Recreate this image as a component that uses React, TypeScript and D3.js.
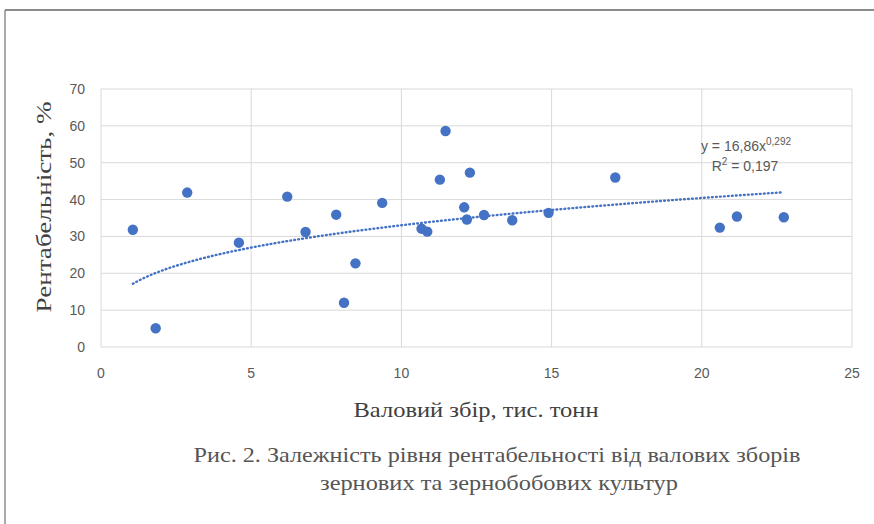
import React, { useRef, useEffect } from "react";
import { select, scaleLinear, line, range } from "d3";

// Валовий збір, тис. тонн
const harvest = [1.06, 2.87, 1.82, 4.59, 6.2, 6.81, 7.83, 8.47, 8.09, 9.36, 11.47, 11.28, 12.28, 10.67, 10.86, 12.09, 12.18, 12.75, 13.69, 14.9, 17.12, 20.6, 21.17, 22.73];
// Рентабельність, %
const profit = [31.8, 41.9, 5.1, 28.3, 40.8, 31.2, 35.9, 22.7, 12.0, 39.1, 58.6, 45.4, 47.3, 32.1, 31.3, 37.9, 34.6, 35.8, 34.4, 36.4, 46.0, 32.4, 35.4, 35.2];
const xTicks = [0, 5, 10, 15, 20, 25];
const yTicks = [0, 10, 20, 30, 40, 50, 60, 70];
// power trendline y = a * x^b
const trendA = 16.86;
const trendB = 0.292;

const W = 874;
const H = 524;
const blue = "#4472C4";
const grid = "#d9d9d9";
const tickColor = "#595959";
const serif = "'Liberation Serif', 'Times New Roman', serif";
const sans = "'Liberation Sans', Arial, sans-serif";

function App() {
  const svgRef = useRef(null);

  useEffect(() => {
    const svg = select(svgRef.current);
    svg.selectAll("*").remove();

    const x = scaleLinear().domain([0, 25]).range([101, 852]);
    const y = scaleLinear().domain([0, 70]).range([347, 89]);

    // page frame
    svg.append("line").attr("x1", 5).attr("x2", W).attr("y1", 10).attr("y2", 10)
      .attr("stroke", "#8c8c8c").attr("stroke-width", 2);
    svg.append("line").attr("x1", 5).attr("x2", 5).attr("y1", 10).attr("y2", H)
      .attr("stroke", "#8c8c8c").attr("stroke-width", 1.5);

    // gridlines
    svg.append("g").selectAll("line").data(yTicks).join("line")
      .attr("x1", x(0)).attr("x2", x(25))
      .attr("y1", (d) => y(d)).attr("y2", (d) => y(d))
      .attr("stroke", grid).attr("stroke-width", 1);
    svg.append("g").selectAll("line").data(xTicks).join("line")
      .attr("x1", (d) => x(d)).attr("x2", (d) => x(d))
      .attr("y1", y(0)).attr("y2", y(70))
      .attr("stroke", grid).attr("stroke-width", 1);

    // tick labels
    svg.append("g").selectAll("text").data(yTicks).join("text")
      .attr("x", 85).attr("y", (d) => y(d) + 5)
      .attr("text-anchor", "end")
      .attr("font-family", sans).attr("font-size", 14).attr("fill", tickColor)
      .text((d) => d);
    svg.append("g").selectAll("text").data(xTicks).join("text")
      .attr("x", (d) => x(d)).attr("y", 378)
      .attr("text-anchor", "middle")
      .attr("font-family", sans).attr("font-size", 14).attr("fill", tickColor)
      .text((d) => d);

    // trendline
    const xs = range(Math.min(...harvest), Math.max(...harvest) + 0.01, 0.1);
    const trend = line()
      .x((d) => x(d))
      .y((d) => y(trendA * Math.pow(d, trendB)));
    svg.append("path").datum(xs).attr("d", trend)
      .attr("fill", "none").attr("stroke", blue).attr("stroke-width", 2.4)
      .attr("stroke-dasharray", "0.8,3.2").attr("stroke-linecap", "round");

    // points
    svg.append("g").selectAll("circle").data(harvest).join("circle")
      .attr("cx", (d) => x(d)).attr("cy", (d, i) => y(profit[i]))
      .attr("r", 5.2).attr("fill", blue);

    // trend label
    const lbl = svg.append("text").attr("font-family", sans).attr("font-size", 14)
      .attr("fill", tickColor).attr("text-anchor", "middle");
    const l1 = lbl.append("tspan").attr("x", 746).attr("y", 151);
    l1.append("tspan").text("y = 16,86x");
    l1.append("tspan").attr("font-size", 10).attr("dy", -6).text("0,292");
    const l2 = lbl.append("tspan").attr("x", 745).attr("y", 171);
    l2.append("tspan").text("R");
    l2.append("tspan").attr("font-size", 10).attr("dy", -6).text("2");
    l2.append("tspan").attr("dy", 6).text(" = 0,197");

    // axis titles
    svg.append("text")
      .attr("transform", `translate(51, 207) rotate(-90)`)
      .attr("text-anchor", "middle")
      .attr("font-family", serif).attr("font-size", 22).attr("fill", "#404040")
      .attr("textLength", 211).attr("lengthAdjust", "spacingAndGlyphs")
      .text("Рентабельність, %");
    svg.append("text")
      .attr("x", 476).attr("y", 417).attr("text-anchor", "middle")
      .attr("font-family", serif).attr("font-size", 22).attr("fill", "#404040")
      .attr("textLength", 245).attr("lengthAdjust", "spacingAndGlyphs")
      .text("Валовий збір, тис. тонн");

    // caption
    svg.append("text")
      .attr("x", 497).attr("y", 462).attr("text-anchor", "middle")
      .attr("font-family", serif).attr("font-size", 22).attr("fill", "#555")
      .attr("textLength", 607).attr("lengthAdjust", "spacingAndGlyphs")
      .text("Рис. 2. Залежність рівня рентабельності від валових зборів");
    svg.append("text")
      .attr("x", 499).attr("y", 490).attr("text-anchor", "middle")
      .attr("font-family", serif).attr("font-size", 22).attr("fill", "#555")
      .attr("textLength", 358).attr("lengthAdjust", "spacingAndGlyphs")
      .text("зернових та зернобобових культур");
  }, []);

  return (
    <svg
      ref={svgRef}
      width={W}
      height={H}
      style={{ position: "absolute", left: 0, top: 0, background: "#fff" }}
    />
  );
}

export default App;
